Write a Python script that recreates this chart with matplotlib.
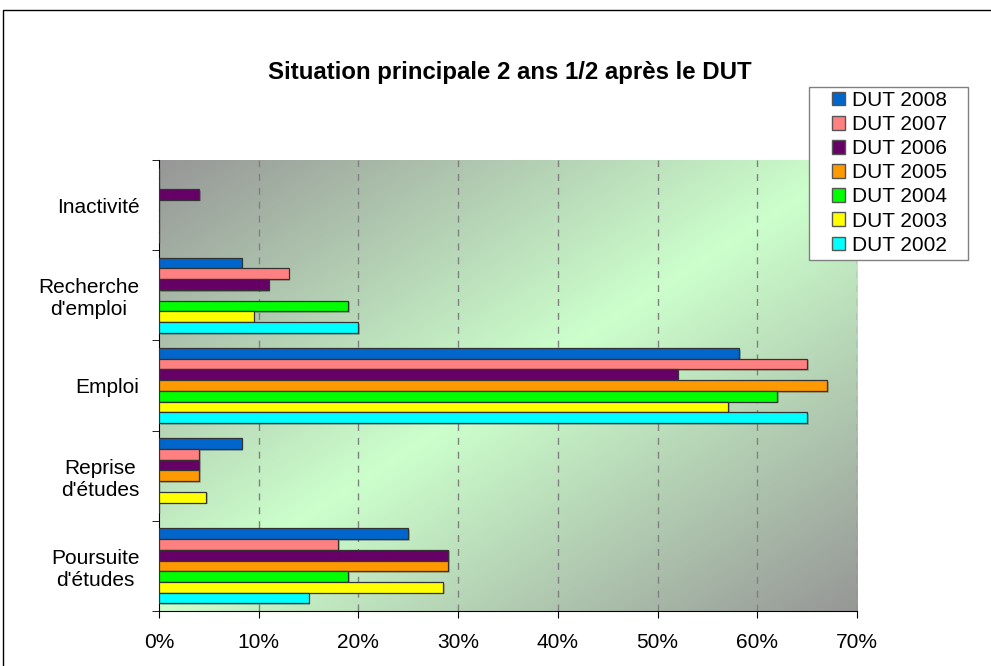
import numpy as np
import matplotlib
matplotlib.use("Agg")
import matplotlib.pyplot as plt
import matplotlib.patheffects as pe
from matplotlib.patches import Patch, Rectangle

plt.rcParams['font.family'] = ['Liberation Sans', 'DejaVu Sans']

# Data (percent), categories from top to bottom
categories = ["Inactivité", "Recherche\nd'emploi", "Emploi", "Reprise\nd'études", "Poursuite\nd'études"]
years = ["DUT 2008", "DUT 2007", "DUT 2006", "DUT 2005", "DUT 2004", "DUT 2003", "DUT 2002"]
dut2008 = [0, 8.3, 58.2, 8.3, 25.0]
dut2007 = [0, 13.0, 65.0, 4.0, 18.0]
dut2006 = [4.0, 11.0, 52.0, 4.0, 29.0]
dut2005 = [0, 0, 67.0, 4.0, 29.0]
dut2004 = [0, 19.0, 62.0, 0, 19.0]
dut2003 = [0, 9.5, 57.1, 4.7, 28.5]
dut2002 = [0, 20.0, 65.0, 0, 15.0]
series = [dut2008, dut2007, dut2006, dut2005, dut2004, dut2003, dut2002]
colors = ["#0066CC", "#FF8080", "#660066", "#FF9900", "#00FF00", "#FFFF00", "#00FFFF"]

fig = plt.figure(figsize=(9.91, 6.66), dpi=100)
ax = fig.add_axes([159 / 991, 55 / 666, 698 / 991, 451 / 666])

# diagonal gradient background: gray (top-left) -> light green -> gray (bottom-right)
n = 300
xx, yy = np.meshgrid(np.linspace(0, 1, n), np.linspace(0, 1, n))
t = (xx + yy) / 2
w = 1 - np.abs(2 * t - 1)
gray = np.array([0.59, 0.59, 0.59])
green = np.array([0.80, 1.0, 0.80])
img = gray + (green - gray) * w[..., None]
ax.imshow(img, extent=[0, 1, 0, 1], transform=ax.transAxes, aspect='auto', zorder=0)

h = 0.119
y = np.arange(len(categories))
for i, (vals, c) in enumerate(zip(series, colors)):
    bars = ax.barh(y + (i - 3) * h, vals, height=h, color=c, edgecolor="#333333",
                   linewidth=0.9, zorder=3, label=years[i])
    for b in bars:
        if b.get_width() > 0:
            b.set_path_effects([pe.SimplePatchShadow(offset=(1.2, -1.2), alpha=0.25), pe.Normal()])

ax.set_xlim(0, 70)
ax.set_ylim(4.5, -0.5)
ax.set_xticks(range(0, 71, 10))
ax.set_xticklabels([f"{v}%" for v in range(0, 71, 10)], fontsize=15)
ax.tick_params(axis='x', length=5, direction='out', pad=11)
ax.set_yticks(y)
ax.set_yticklabels(categories, fontsize=15)
ax.tick_params(axis='y', which='major', length=0, pad=14)
for lab in ax.get_yticklabels():
    lab.set_multialignment('center')
ax.set_yticks(np.arange(-0.5, 4.6, 1), minor=True)
ax.tick_params(axis='y', which='minor', length=5, direction='out')

for v in range(10, 71, 10):
    ax.axvline(v, color="#808080", linestyle=(0, (5, 5)), linewidth=1, zorder=1)

ax.spines['top'].set_visible(False)
ax.spines['right'].set_visible(False)

fig.text(510 / 991, 1 - 73 / 666, "Situation principale 2 ans 1/2 après le DUT",
         ha='center', va='center', fontsize=17.3, fontweight='bold')

# legend box drawn by hand, entries placed inside it
fig.add_artist(Rectangle((809 / 991, 1 - 260 / 666), 159 / 991, 173 / 666, facecolor='white',
                         edgecolor="#808080", linewidth=1, transform=fig.transFigure, zorder=5))
handles = [Patch(facecolor=c, edgecolor="#555555", label=l) for c, l in zip(colors, years)]
leg = fig.legend(handles=handles, loc='upper left', bbox_to_anchor=(832 / 991, 1 - 91 / 666),
                 fontsize=15, frameon=False, handlelength=0.62, handleheight=0.62,
                 handletextpad=0.35, labelspacing=0.245, borderpad=0, borderaxespad=0)
leg.set_zorder(6)

fig.add_artist(Rectangle((3 / 991, -0.1), 1.2, 1 - 10 / 666 + 0.1, fill=False,
                         edgecolor='black', linewidth=1, transform=fig.transFigure))

fig.savefig("out.png", dpi=100)
